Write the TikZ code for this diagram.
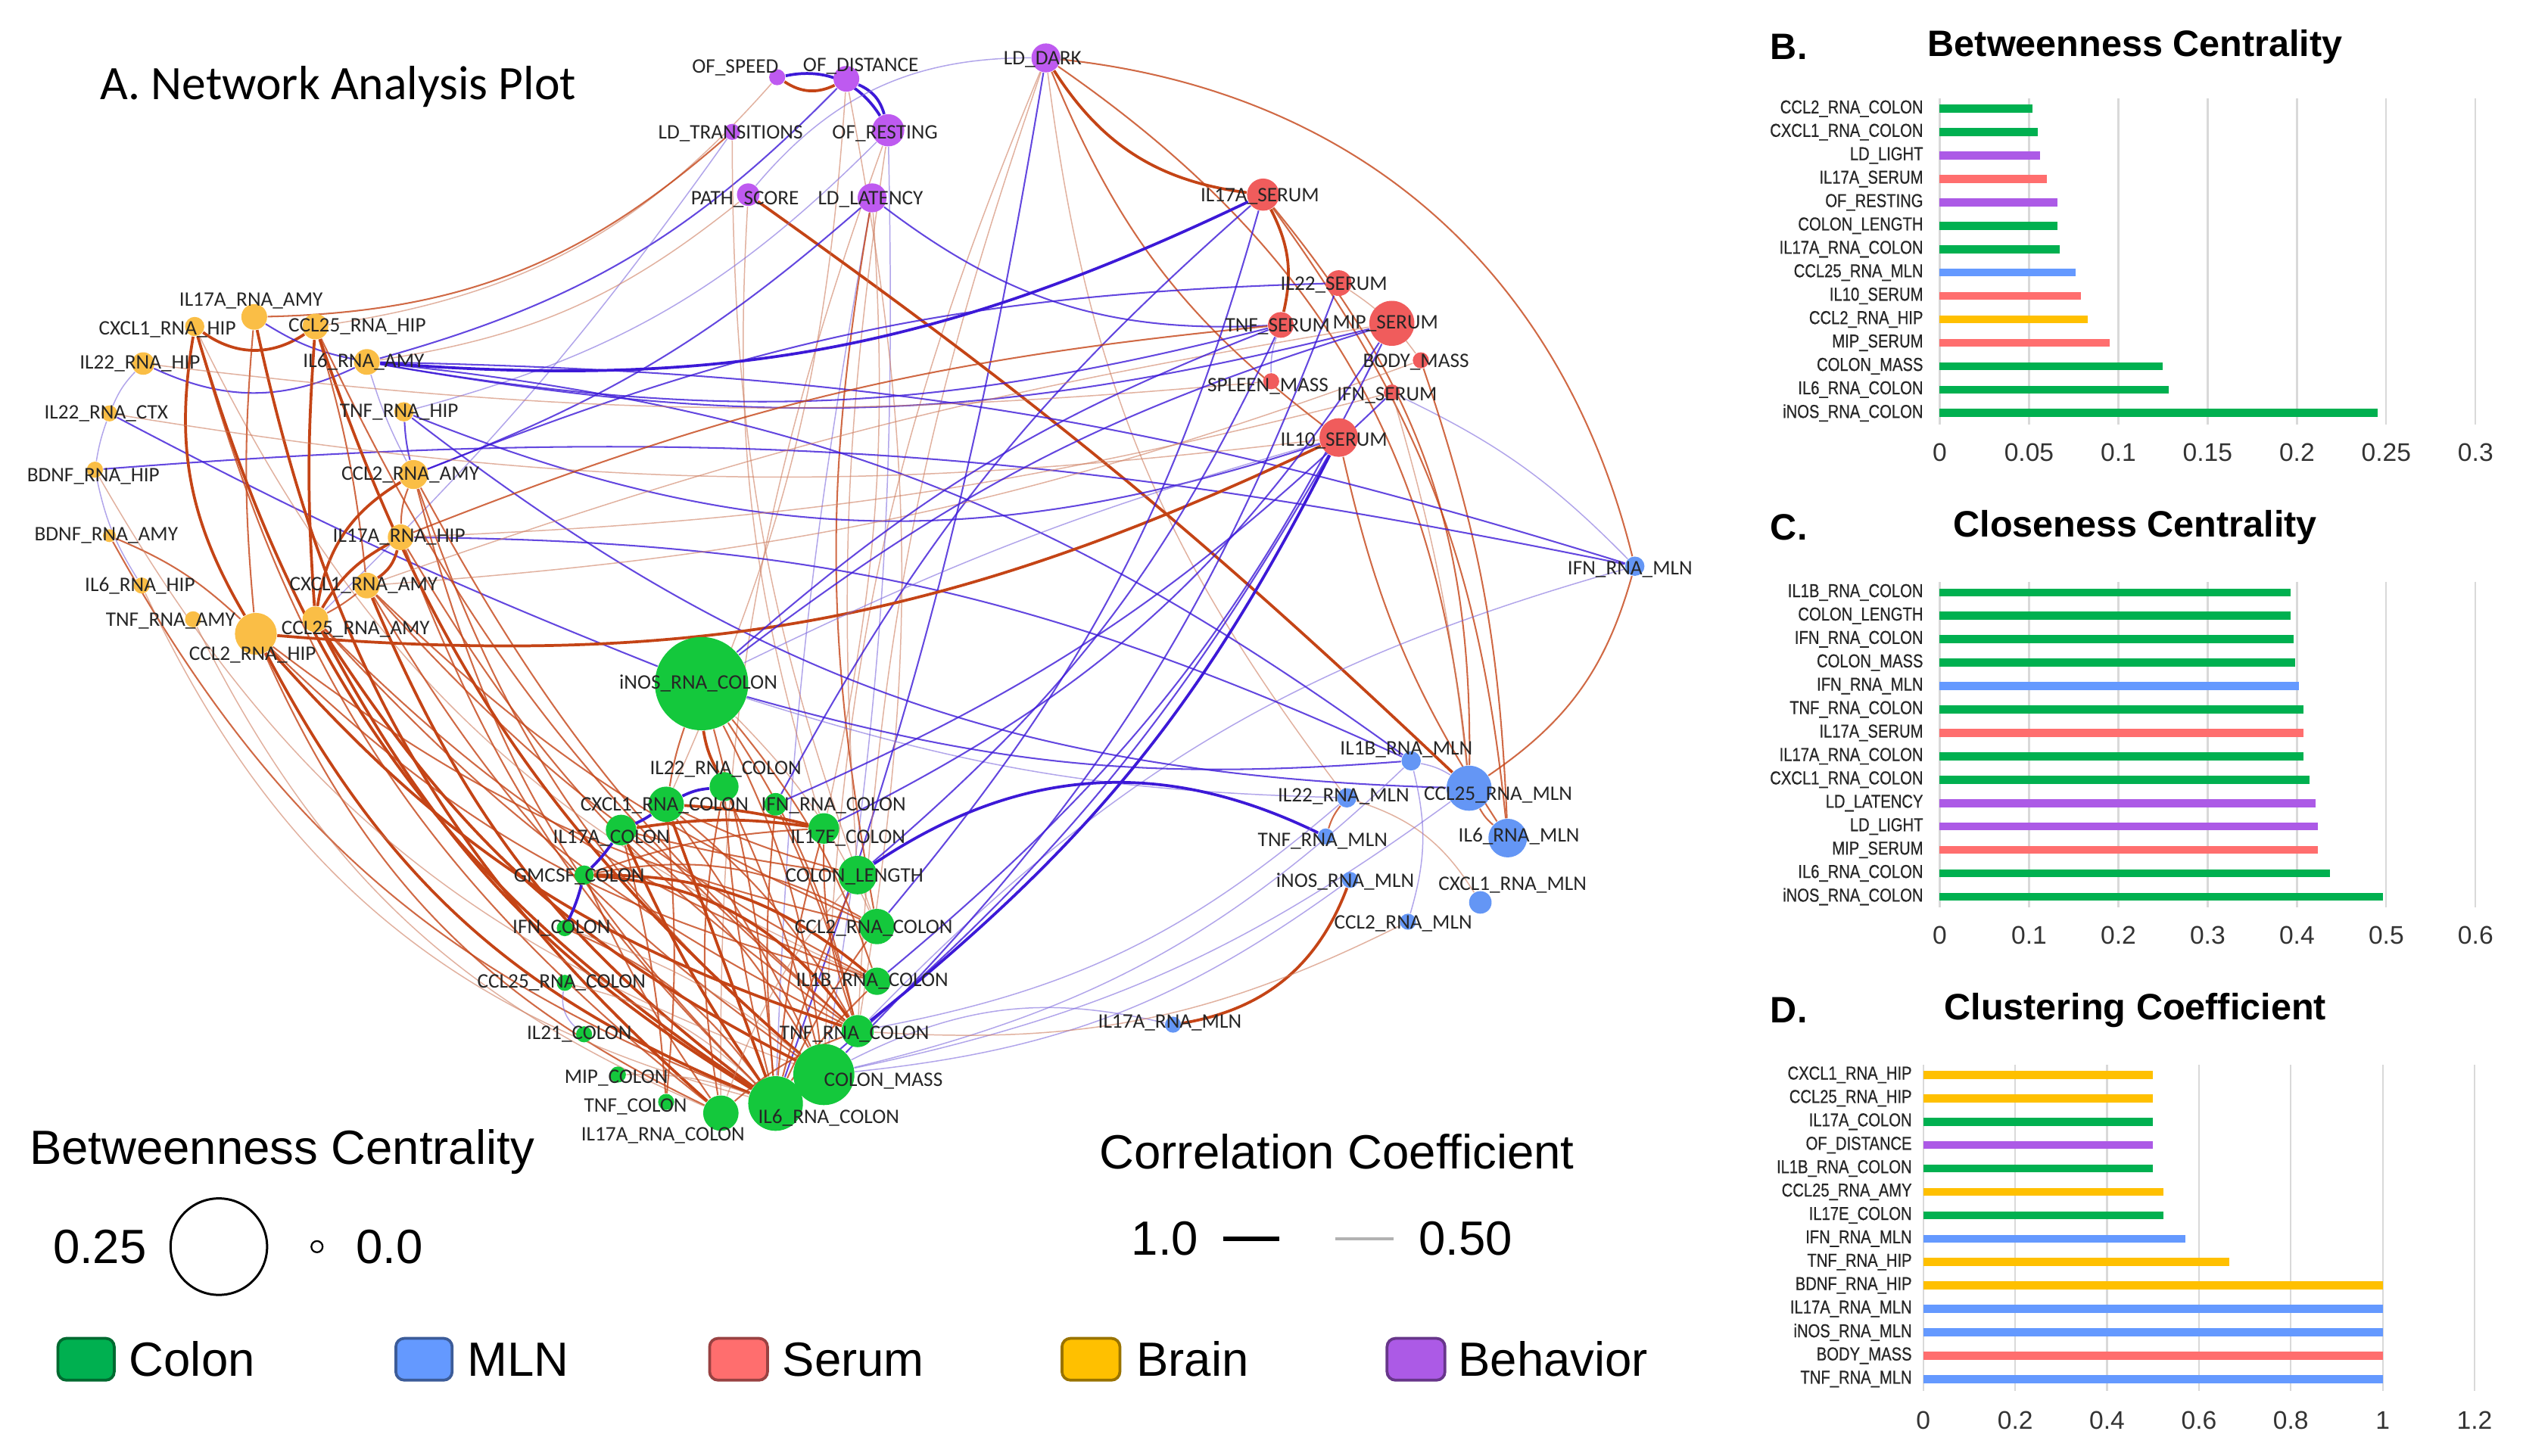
\documentclass[tikz,border=0pt]{standalone}
\usepackage{fontspec}
\setmainfont{Liberation Sans}
\newfontfamily\calfont{Carlito}
\newfontfamily\narrowfont[FakeStretch=0.82,FakeBold=0.6]{Liberation Sans}
\usepackage{tikz}
\usetikzlibrary{backgrounds}

% node colours of the network
\definecolor{ncolon}{RGB}{20,200,60}
\definecolor{nmln}{RGB}{100,150,245}
\definecolor{nserum}{RGB}{240,92,92}
\definecolor{nbrain}{RGB}{250,190,70}
\definecolor{nbehav}{RGB}{190,90,240}
% edge colours
\definecolor{posdark}{RGB}{196,68,22}
\definecolor{poslight}{RGB}{205,125,95}
\definecolor{negdark}{RGB}{60,25,215}
\definecolor{neglight}{RGB}{125,105,220}
% bar / legend colours
\definecolor{barg}{RGB}{0,176,80}
\definecolor{barb}{RGB}{100,153,255}
\definecolor{barr}{RGB}{255,110,110}
\definecolor{bary}{RGB}{255,192,0}
\definecolor{barp}{RGB}{172,90,230}
\definecolor{gridc}{RGB}{217,217,217}

\begin{document}
\begin{tikzpicture}[x=0.02cm, y=-0.02cm,
  dot/.style={circle, inner sep=0pt, minimum size=#1*0.04cm},
  colon/.style={dot=#1, fill=ncolon},
  mln/.style={dot=#1, fill=nmln},
  serum/.style={dot=#1, fill=nserum},
  brain/.style={dot=#1, fill=nbrain},
  behav/.style={dot=#1, fill=nbehav},
  nlab/.style={font=\calfont\fontsize{7.3}{8}\selectfont, inner sep=0pt, text=black!85},
  pa/.style={draw=posdark, line width=1pt},
  pb/.style={draw=posdark, line width=0.55pt, draw opacity=0.8},
  pc/.style={draw=poslight, line width=0.4pt, draw opacity=0.6},
  na/.style={draw=negdark, line width=1pt},
  nb/.style={draw=negdark, line width=0.55pt, draw opacity=0.8},
  nc/.style={draw=neglight, line width=0.4pt, draw opacity=0.6},
  legtext/.style={font=\fontsize{17}{20}\selectfont, inner sep=0pt},
  swatch/.style={draw=#1!60!black, fill=#1, line width=1pt, rounded corners=3pt},
  charttitle/.style={font=\bfseries\fontsize{13}{15}\selectfont, inner sep=0pt},
  catlab/.style={font=\narrowfont\fontsize{6.6}{8}\selectfont, inner sep=0pt, anchor=east, text=black!85},
  ticklab/.style={font=\fontsize{9}{10}\selectfont, inner sep=0pt, text=black!80},
  grid/.style={draw=gridc, line width=0.6pt}
]
\useasboundingbox (0,0) rectangle (1568,905);

\node[font=\calfont\fontsize{17}{20}\selectfont, anchor=west, inner sep=0pt] (atitle) at (62,54) {A. Network Analysis Plot};

% behaviour
\node[behav=5]  (ofspd)   at (483,48)  {};
\node[behav=8]  (ofdist)  at (526,49)  {};
\node[behav=9]  (lddark)  at (650,36)  {};
\node[behav=5]  (ldtrans) at (455,82)  {};
\node[behav=10] (ofrest)  at (552,81)  {};
\node[behav=7]  (pathsc)  at (465,121) {};
\node[behav=9]  (ldlat)   at (542,123) {};
% serum
\node[serum=10] (il17as)  at (785,121) {};
\node[serum=8]  (il22s)   at (832,176) {};
\node[serum=8]  (tnfs)    at (796,202) {};
\node[serum=14] (mips)    at (865,201) {};
\node[serum=5]  (bodym)   at (883,224) {};
\node[serum=5]  (spleenm) at (790,237) {};
\node[serum=5]  (ifns)    at (865,244) {};
\node[serum=12] (il10s)   at (832,272) {};
% brain
\node[brain=8]  (il17aamy) at (158,197) {};
\node[brain=6]  (cxcl1hip) at (121,203) {};
\node[brain=8]  (ccl25hip) at (196,203) {};
\node[brain=7]  (il22hip)  at (89,226)  {};
\node[brain=8]  (il6amy)   at (228,225) {};
\node[brain=5]  (il22ctx)  at (68,257)  {};
\node[brain=6]  (tnfhip)   at (251,256) {};
\node[brain=5]  (bdnfhip)  at (59,292)  {};
\node[brain=9]  (ccl2amy)  at (257,295) {};
\node[brain=4]  (bdnfamy)  at (68,333)  {};
\node[brain=8]  (il17ahip) at (249,334) {};
\node[brain=5]  (il6hip)   at (88,364)  {};
\node[brain=8]  (cxcl1amy) at (228,364) {};
\node[brain=5]  (tnfamy)   at (120,385) {};
\node[brain=13] (ccl2hip)  at (159,394) {};
\node[brain=8]  (ccl25amy) at (196,385) {};
% colon
\node[colon=29] (inosc)   at (436,425) {};
\node[colon=9]  (il22c)   at (450,489) {};
\node[colon=11] (cxcl1c)  at (414,500) {};
\node[colon=7]  (ifnc)    at (482,500) {};
\node[colon=9.5](il17ac)  at (386,516) {};
\node[colon=9.5](il17ec)  at (512,515) {};
\node[colon=6]  (gmcsfc)  at (363,544) {};
\node[colon=12] (clen)    at (533,544) {};
\node[colon=5]  (ifncol)  at (351,577) {};
\node[colon=11] (ccl2c)   at (545,576) {};
\node[colon=5]  (ccl25c)  at (351,611) {};
\node[colon=8.5](il1bc)   at (545,610) {};
\node[colon=5]  (il21c)   at (363,643) {};
\node[colon=10] (tnfc)    at (533,641) {};
\node[colon=19] (cmass)   at (512,668) {};
\node[colon=5]  (mipc)    at (384,668) {};
\node[colon=5]  (tnfcol)  at (414,685) {};
\node[colon=11] (il17arc) at (448,692) {};
\node[colon=17] (il6c)    at (482,686) {};
% mln
\node[mln=6]  (il1bm)  at (877,473)  {};
\node[mln=14] (ccl25m) at (913,490)  {};
\node[mln=6]  (il22m)  at (837,496)  {};
\node[mln=12] (il6m)   at (937,521)  {};
\node[mln=5]  (tnfm)   at (824,520)  {};
\node[mln=5]  (inosm)  at (839,547)  {};
\node[mln=7]  (cxcl1m) at (920,561)  {};
\node[mln=5]  (ccl2m)  at (875,573)  {};
\node[mln=5]  (il17am) at (729,637)  {};
\node[mln=6]  (ifnm)   at (1016,352) {};

% node labels
\node[nlab] (ofspd-t)   at (457,42)  {OF\_SPEED};
\node[nlab] (ofdist-t)  at (535,41)  {OF\_DISTANCE};
\node[nlab] (lddark-t)  at (648,37)  {LD\_DARK};
\node[nlab] (ldtrans-t) at (454,83)  {LD\_TRANSITIONS};
\node[nlab] (ofrest-t)  at (550,83)  {OF\_RESTING};
\node[nlab] (pathsc-t)  at (463,124) {PATH\_SCORE};
\node[nlab] (ldlat-t)   at (541,124) {LD\_LATENCY};
\node[nlab] (il17as-t)  at (783,122) {IL17A\_SERUM};
\node[nlab] (il22s-t)   at (829,177) {IL22\_SERUM};
\node[nlab] (tnfs-t)    at (794,203) {TNF\_SERUM};
\node[nlab] (mips-t)    at (861,201) {MIP\_SERUM};
\node[nlab] (bodym-t)   at (880,225) {BODY\_MASS};
\node[nlab] (spleenm-t) at (788,240) {SPLEEN\_MASS};
\node[nlab] (ifns-t)    at (862,246) {IFN\_SERUM};
\node[nlab] (il10s-t)   at (829,274) {IL10\_SERUM};
\node[nlab] (il17aamy-t) at (156,187) {IL17A\_RNA\_AMY};
\node[nlab] (cxcl1hip-t) at (104,205) {CXCL1\_RNA\_HIP};
\node[nlab] (ccl25hip-t) at (222,203) {CCL25\_RNA\_HIP};
\node[nlab] (il22hip-t)  at (87,226)  {IL22\_RNA\_HIP};
\node[nlab] (il6amy-t)   at (226,225) {IL6\_RNA\_AMY};
\node[nlab] (il22ctx-t)  at (66,257)  {IL22\_RNA\_CTX};
\node[nlab] (tnfhip-t)   at (248,256) {TNF\_RNA\_HIP};
\node[nlab] (bdnfhip-t)  at (58,296)  {BDNF\_RNA\_HIP};
\node[nlab] (ccl2amy-t)  at (255,295) {CCL2\_RNA\_AMY};
\node[nlab] (bdnfamy-t)  at (66,333)  {BDNF\_RNA\_AMY};
\node[nlab] (il17ahip-t) at (248,334) {IL17A\_RNA\_HIP};
\node[nlab] (il6hip-t)   at (87,364)  {IL6\_RNA\_HIP};
\node[nlab] (cxcl1amy-t) at (226,364) {CXCL1\_RNA\_AMY};
\node[nlab] (tnfamy-t)   at (106,386) {TNF\_RNA\_AMY};
\node[nlab] (ccl2hip-t)  at (157,407) {CCL2\_RNA\_HIP};
\node[nlab] (ccl25amy-t) at (221,391) {CCL25\_RNA\_AMY};
\node[nlab] (inosc-t)   at (434,425) {iNOS\_RNA\_COLON};
\node[nlab] (il22c-t)   at (451,478) {IL22\_RNA\_COLON};
\node[nlab] (cxcl1c-t)  at (413,501) {CXCL1\_RNA\_COLON};
\node[nlab] (ifnc-t)    at (518,501) {IFN\_RNA\_COLON};
\node[nlab] (il17ac-t)  at (380,521) {IL17A\_COLON};
\node[nlab] (il17ec-t)  at (527,521) {IL17E\_COLON};
\node[nlab] (gmcsfc-t)  at (360,545) {GMCSF\_COLON};
\node[nlab] (clen-t)    at (531,545) {COLON\_LENGTH};
\node[nlab] (ifncol-t)  at (349,577) {IFN\_COLON};
\node[nlab] (ccl2c-t)   at (543,577) {CCL2\_RNA\_COLON};
\node[nlab] (ccl25c-t)  at (349,611) {CCL25\_RNA\_COLON};
\node[nlab] (il1bc-t)   at (542,610) {IL1B\_RNA\_COLON};
\node[nlab] (il21c-t)   at (360,643) {IL21\_COLON};
\node[nlab] (tnfc-t)    at (531,643) {TNF\_RNA\_COLON};
\node[nlab] (cmass-t)   at (549,672) {COLON\_MASS};
\node[nlab] (mipc-t)    at (383,670) {MIP\_COLON};
\node[nlab] (tnfcol-t)  at (395,688) {TNF\_COLON};
\node[nlab] (il17arc-t) at (412,706) {IL17A\_RNA\_COLON};
\node[nlab] (il6c-t)    at (515,695) {IL6\_RNA\_COLON};
\node[nlab] (il1bm-t)   at (874,466) {IL1B\_RNA\_MLN};
\node[nlab] (ccl25m-t)  at (931,494) {CCL25\_RNA\_MLN};
\node[nlab] (il22m-t)   at (835,495) {IL22\_RNA\_MLN};
\node[nlab] (il6m-t)    at (944,520) {IL6\_RNA\_MLN};
\node[nlab] (tnfm-t)    at (822,523) {TNF\_RNA\_MLN};
\node[nlab] (inosm-t)   at (836,548) {iNOS\_RNA\_MLN};
\node[nlab] (cxcl1m-t)  at (940,550) {CXCL1\_RNA\_MLN};
\node[nlab] (ccl2m-t)   at (872,574) {CCL2\_RNA\_MLN};
\node[nlab] (il17am-t)  at (727,636) {IL17A\_RNA\_MLN};
\node[nlab] (ifnm-t)    at (1013,354) {IFN\_RNA\_MLN};

\begin{pgfonlayer}{background}
% behaviour
\draw[pa] (ofspd) to[bend right=30] (ofdist);
\draw[na] (ofspd) to[bend left=35] (ofrest);
\draw[na] (ofdist) to[bend left=25] (ofrest);
\draw[pc] (ofspd) to[bend left=20] (ccl25hip);
\draw[pb] (ldtrans) to[bend left=20] (il17aamy);
\draw[nb] (ofdist) to[bend left=15] (il6amy);
\draw[nc] (ldtrans) to[bend left=5] (ccl25amy);
\draw[nc] (lddark) to[bend right=25] (pathsc);
\draw[pa] (lddark) to[bend right=25] (il17as);
\draw[pb] (lddark) to[bend right=15] (il10s);
\draw[pb] (lddark) to[bend left=35] (ifnm);
\draw[pb] (lddark) to[bend left=25] (ccl25m);
\draw[nb] (lddark) to[bend left=5] (il6c);
\draw[pc] (lddark) to[bend right=10] (cmass);
\draw[pc] (lddark) to[bend right=15] (il22m);
\draw[pc] (lddark) to[bend right=8] (tnfc);
\draw[nc] (ldlat) to[bend right=4] (il6c);
\draw[nc] (ofrest) to[bend left=5] (cmass);
\draw[pb] (ldlat) to[bend right=10] (ccl2c);
\draw[pc] (ofrest) to[bend right=10] (il17arc);
\draw[pc] (ofdist) to[bend left=10] (tnfc);
\draw[pa] (pathsc) to[bend left=4] (ccl25m);
\draw[nb] (ldlat) to[bend right=20] (tnfs);
\draw[pc] (pathsc) to[bend right=10] (il17ec);
\draw[pc] (ofdist) to[bend left=10] (cxcl1c);
\draw[pc] (ldlat) to[bend left=8] (il17ec);
\draw[pc] (ofrest) to[bend right=6] (clen);
\draw[pc] (ldtrans) to[bend right=10] (ccl2c);
\draw[pc] (pathsc) to[bend left=15] (il6amy);
\draw[nb] (ldlat) to[bend left=10] (ccl2amy);
\draw[nc] (ofrest) to[bend left=15] (tnfhip);
% serum
\draw[pa] (il17as) to[bend left=20] (tnfs);
\draw[na] (il17as) to[bend left=15] (il6amy);
\draw[nb] (il17as) to[bend right=10] (ifnc);
\draw[pb] (il17as) to[bend left=20] (ccl25m);
\draw[pb] (il17as) to[bend left=15] (il6m);
\draw[pc] (il22s) to[bend left=10] (bodym);
\draw[nc] (tnfs) to[bend right=10] (spleenm);
\draw[nc] (ifns) to[bend left=10] (ifnm);
\draw[pb] (il10s) to[bend right=10] (il6m);
\draw[pb] (il6m) to[bend right=8] (bodym);
\draw[pc] (ifns) to[bend left=5] (ccl25m);
\draw[pb] (ifnm) to[bend left=20] (ccl25m);
\draw[nc] (ifnm) to[bend right=15] (tnfc);
% brain
\draw[pa] (cxcl1hip) to[bend right=35] (ccl25hip);
\draw[nb] (il17aamy) to[bend right=10] (il6amy);
\draw[nb] (il22hip) to[bend right=25] (il6amy);
\draw[nc] (il22hip) to[bend right=10] (il22ctx);
\draw[nc] (il22ctx) to[bend right=5] (bdnfhip);
\draw[nc] (bdnfhip) to[bend right=10] (il6hip);
\draw[nb] (il22ctx) to[bend right=3] (inosc);
\draw[nb] (tnfhip) to[bend right=5] (ccl2amy);
\draw[nb] (tnfhip) to[bend right=20] (il10s);
\draw[nb] (tnfhip) to[bend right=18] (ccl25m);
\draw[nc] (il6amy) to[bend right=5] (ccl2amy);
\draw[nb] (il6amy) to[bend right=12] (mips);
\draw[nb] (il6amy) to[bend right=12] (tnfs);
\draw[nb] (il6amy) to[bend left=15] (il1bm);
\draw[nb] (il6amy) to[bend left=8] (ifnm);
\draw[nb] (ccl2amy) to[bend left=10] (il22s);
\draw[nb] (il17ahip) to[bend left=12] (il1bm);
\draw[nb] (bdnfhip) to[bend left=8] (ifnm);
\draw[pb] (ccl2amy) to[bend right=10] (il17ahip);
\draw[pa] (ccl2amy) to[bend right=25] (ccl25amy);
\draw[pa] (il17ahip) to[bend left=20] (cxcl1amy);
\draw[pb] (ccl2amy) to[bend right=15] (il6c);
\draw[pb] (ccl2amy) to[bend right=15] (cmass);
\draw[pb] (ccl2amy) to[bend right=10] (tnfc);
\draw[pa] (cxcl1hip) to[bend right=20] (il6c);
\draw[pb] (cxcl1hip) to[bend right=18] (il17arc);
\draw[pc] (cxcl1hip) to[bend right=20] (il1bc);
\draw[pa] (cxcl1hip) to[bend right=20] (ccl2hip);
\draw[pa] (il17aamy) to[bend right=18] (il17arc);
\draw[pb] (il17aamy) to[bend right=5] (ccl2hip);
\draw[pa] (ccl25hip) to[bend right=15] (cmass);
\draw[pb] (ccl25hip) to[bend right=12] (tnfc);
\draw[pa] (ccl25hip) to[bend right=4] (ccl25amy);
\draw[pb] (ccl25hip) to[bend left=5] (cxcl1amy);
\draw[pa] (ccl2hip) to[bend right=20] (il6c);
\draw[pb] (ccl2hip) to[bend right=20] (il17arc);
\draw[pb] (ccl2hip) to[bend right=15] (il1bc);
\draw[pa] (ccl2hip) to[bend right=15] (tnfc);
\draw[pb] (ccl2hip) to[bend right=12] (ccl2c);
\draw[pa] (ccl2hip) to[bend right=15] (il10s);
\draw[pa] (ccl25amy) to[bend right=15] (il6c);
\draw[pa] (ccl25amy) to[bend right=15] (cmass);
\draw[pb] (ccl25amy) to[bend right=10] (tnfc);
\draw[pb] (ccl25amy) to[bend right=12] (il1bc);
\draw[pa] (ccl25amy) to[bend left=15] (il17ahip);
\draw[pb] (ccl25amy) to[bend right=5] (cxcl1amy);
\draw[pa] (cxcl1amy) to[bend right=15] (il6c);
\draw[pb] (cxcl1amy) to[bend right=12] (cmass);
\draw[pb] (cxcl1amy) to[bend right=10] (ccl2c);
\draw[pb] (cxcl1amy) to[bend right=10] (il1bc);
\draw[pb] (il17ahip) to[bend right=12] (il6c);
\draw[pb] (il17ahip) to[bend right=12] (tnfc);
\draw[pb] (bdnfamy) to[bend left=10] (ccl2hip);
\draw[pb] (bdnfamy) to[bend right=20] (il6c);
\draw[pc] (tnfamy) to[bend right=20] (il17arc);
\draw[pc] (il6hip) to[bend right=25] (il6c);
\draw[pc] (bdnfhip) to[bend right=20] (cmass);
\draw[pc] (il22ctx) to[bend right=8] (il10s);
\draw[pc] (il22hip) to[bend right=6] (spleenm);
\draw[pc] (cxcl1amy) to[bend right=8] (bodym);
\draw[pb] (il17ahip) to[bend left=8] (tnfs);
\draw[pc] (cxcl1amy) to[bend left=5] (mips);
\draw[pc] (il17ahip) to[bend right=6] (ifns);
% colon
\draw[pa] (inosc) to[bend right=10] (il22c);
\draw[pb] (inosc) to[bend right=5] (cxcl1c);
\draw[pb] (inosc) to[bend left=5] (il6c);
\draw[pb] (inosc) to[bend left=10] (cmass);
\draw[pb] (inosc) to[bend left=10] (tnfc);
\draw[pb] (inosc) to[bend left=10] (il1bc);
\draw[pc] (inosc) to[bend left=10] (ccl2c);
\draw[nb] (inosc) to[bend left=10] (mips);
\draw[nb] (inosc) to[bend left=10] (tnfs);
\draw[nc] (inosc) to[bend left=5] (il10s);
\draw[nb] (inosc) to[bend right=10] (il1bm);
\draw[nc] (inosc) to[bend right=8] (il22m);
\draw[na] (ifncol) to[bend right=5] (gmcsfc);
\draw[na] (gmcsfc) to[bend right=5] (il17ac);
\draw[na] (il17ac) to[bend right=5] (cxcl1c);
\draw[na] (cxcl1c) to[bend left=10] (il22c);
\draw[pa] (cxcl1c) to[bend left=5] (il17ec);
\draw[pa] (il17ac) to[bend left=8] (il17ec);
\draw[pb] (gmcsfc) to[bend left=8] (il17ec);
\draw[pb] (cxcl1c) to[bend right=5] (clen);
\draw[pb] (il17ac) to[bend right=3] (clen);
\draw[pa] (gmcsfc) to[bend left=25] (tnfc);
\draw[pa] (gmcsfc) to[bend left=20] (il1bc);
\draw[pb] (gmcsfc) to[bend left=20] (ccl2c);
\draw[pa] (il17ac) to[bend right=5] (il6c);
\draw[pb] (il17ac) to[bend left=10] (cmass);
\draw[pa] (cxcl1c) to (il6c);
\draw[pb] (cxcl1c) to[bend left=5] (cmass);
\draw[pb] (cxcl1c) to[bend left=10] (tnfc);
\draw[pb] (il22c) to[bend right=5] (il6c);
\draw[pb] (il22c) to[bend left=5] (cmass);
\draw[pb] (il22c) to[bend right=10] (il17arc);
\draw[pb] (ifnc) to[bend left=5] (tnfc);
\draw[pb] (ifnc) to[bend right=5] (il6c);
\draw[pb] (il17ec) to[bend right=5] (il6c);
\draw[pb] (il17ec) to[bend right=10] (tnfc);
\draw[pb] (clen) to[bend right=5] (il6c);
\draw[pc] (clen) to[bend right=10] (il17arc);
\draw[pb] (ccl2c) to[bend right=5] (il6c);
\draw[pb] (il1bc) to[bend right=5] (il6c);
\draw[pb] (tnfc) to[bend right=10] (il17arc);
\draw[pb] (ifncol) to[bend left=15] (il6c);
\draw[pc] (ccl25c) to[bend left=15] (il6c);
\draw[pc] (mipc) to[bend left=10] (il6c);
\draw[pb] (tnfcol) to[bend right=5] (cxcl1c);
\draw[pb] (il17arc) to[bend left=5] (gmcsfc);
\draw[nc] (il21c) to[bend left=30] (ccl25c);
\draw[pb] (tnfcol) to[bend right=5] (il17ac);
\draw[pc] (ifncol) to[bend left=10] (cmass);
% colon to serum and mln
\draw[nb] (il17ec) to[bend right=15] (mips);
\draw[na] (clen) to[bend left=30] (tnfm);
\draw[nb] (clen) to[bend right=12] (tnfs);
\draw[na] (tnfc) to[bend right=12] (il10s);
\draw[nb] (il1bc) to[bend right=12] (mips);
\draw[nb] (ccl2c) to[bend right=12] (il17as);
\draw[nc] (cmass) to[bend right=15] (il1bm);
\draw[nc] (cmass) to[bend right=15] (inosm);
\draw[nc] (cmass) to[bend right=12] (ccl25m);
\draw[nc] (tnfc) to[bend right=15] (il22m);
\draw[nb] (il6c) to[bend right=10] (il10s);
\draw[nb] (cmass) to[bend right=12] (il22s);
\draw[nb] (ifnc) to[bend right=10] (ifns);
\draw[nc] (il17am) to[bend right=20] (cmass);
\draw[pa] (il17am) to[bend right=30] (inosm);
\draw[pc] (tnfc) to[bend right=15] (ccl2m);
% mln
\draw[pb] (ccl25m) to[bend right=10] (il6m);
\draw[nc] (ccl25m) to[bend right=10] (il1bm);
\draw[pb] (il22m) to[bend right=10] (tnfm);
\draw[pc] (il22m) to[bend left=20] (cxcl1m);
\draw[nc] (ccl2m) to[bend right=15] (il1bm);
\end{pgfonlayer}

% legends under the network
\node[legtext, anchor=west] (bclegend) at (18,716) {Betweenness Centrality};
\node[legtext] (big-v) at (62,775) {0.25};
\node[circle, draw, line width=0.8pt, minimum size=1.2cm, inner sep=0pt] (bigc) at (136,775) {};
\node[circle, draw, line width=0.6pt, minimum size=0.14cm, inner sep=0pt] (smallc) at (197,775) {};
\node[legtext] (small-v) at (242,775) {0.0};
\node[legtext, anchor=west] (cclegend) at (683,716) {Correlation Coefficient};
\node[legtext] (hi-v) at (724,770) {1.0};
\coordinate (hi-a) at (760,770);
\coordinate (hi-b) at (795,770);
\draw[line width=1.7pt] (hi-a) -- (hi-b);
\coordinate (lo-a) at (830,770);
\coordinate (lo-b) at (866,770);
\draw[line width=1.1pt, black!30] (lo-a) -- (lo-b);
\node[legtext] (lo-v) at (911,770) {0.50};

\draw[swatch=barg] (36,832) rectangle (71,858);
\node[legtext, anchor=west] (lg-colon) at (80,845) {Colon};
\draw[swatch=barb] (246,832) rectangle (281,858);
\node[legtext, anchor=west] (lg-mln) at (290,845) {MLN};
\draw[swatch=barr] (441,832) rectangle (477,858);
\node[legtext, anchor=west] (lg-serum) at (486,845) {Serum};
\draw[swatch=bary] (660,832) rectangle (696,858);
\node[legtext, anchor=west] (lg-brain) at (706,845) {Brain};
\draw[swatch=barp] (862,832) rectangle (898,858);
\node[legtext, anchor=west] (lg-behav) at (906,845) {Behavior};

% B. betweenness
\node[charttitle, anchor=west] (bletter) at (1100,29) {B.};
\node[charttitle] (btitle) at (1327,29) {Betweenness Centrality};
\foreach \k/\t in {0/0,1/0.05,2/0.1,3/0.15,4/0.2,5/0.25,6/0.3} {
  \draw[grid] ({1205.5+\k*55.5},61) -- ({1205.5+\k*55.5},264);
  \node[ticklab] (bt-\k) at ({1205.5+\k*55.5},281.3) {\t};
}
\foreach \lab/\v/\c [count=\i from 0] in {
  CCL2\_RNA\_COLON/0.052/barg, CXCL1\_RNA\_COLON/0.055/barg, LD\_LIGHT/0.056/barp,
  IL17A\_SERUM/0.060/barr, OF\_RESTING/0.066/barp, COLON\_LENGTH/0.066/barg,
  IL17A\_RNA\_COLON/0.067/barg, CCL25\_RNA\_MLN/0.076/barb, IL10\_SERUM/0.079/barr,
  CCL2\_RNA\_HIP/0.083/bary, MIP\_SERUM/0.095/barr, COLON\_MASS/0.125/barg,
  IL6\_RNA\_COLON/0.128/barg, iNOS\_RNA\_COLON/0.245/barg} {
  \fill[\c] (1205.5,{67.6+\i*14.55-2.5}) rectangle ({1205.5+\v*1110},{67.6+\i*14.55+2.5});
  \node[catlab] (bl-\i) at (1195.5,{67.6+\i*14.55}) {\lab};
}

% C. closeness
\node[charttitle, anchor=west] (cletter) at (1100,328) {C.};
\node[charttitle] (ctitle) at (1327,328) {Closeness Centrality};
\foreach \k/\t in {0/0,1/0.1,2/0.2,3/0.3,4/0.4,5/0.5,6/0.6} {
  \draw[grid] ({1205.5+\k*55.5},361.6) -- ({1205.5+\k*55.5},564);
  \node[ticklab] (ct-\k) at ({1205.5+\k*55.5},581.4) {\t};
}
\foreach \lab/\v/\c [count=\i from 0] in {
  IL1B\_RNA\_COLON/0.393/barg, COLON\_LENGTH/0.393/barg, IFN\_RNA\_COLON/0.396/barg,
  COLON\_MASS/0.398/barg, IFN\_RNA\_MLN/0.402/barb, TNF\_RNA\_COLON/0.407/barg,
  IL17A\_SERUM/0.407/barr, IL17A\_RNA\_COLON/0.407/barg, CXCL1\_RNA\_COLON/0.414/barg,
  LD\_LATENCY/0.421/barp, LD\_LIGHT/0.423/barp, MIP\_SERUM/0.423/barr,
  IL6\_RNA\_COLON/0.437/barg, iNOS\_RNA\_COLON/0.496/barg} {
  \fill[\c] (1205.5,{368.3+\i*14.55-2.5}) rectangle ({1205.5+\v*555},{368.3+\i*14.55+2.5});
  \node[catlab] (cl-\i) at (1195.5,{368.3+\i*14.55}) {\lab};
}

% D. clustering
\node[charttitle, anchor=west] (dletter) at (1100,628) {D.};
\node[charttitle] (dtitle) at (1327,628) {Clustering Coefficient};
\foreach \k/\t in {0/0,1/0.2,2/0.4,3/0.6,4/0.8,5/1,6/1.2} {
  \draw[grid] ({1195.3+\k*57.1},662) -- ({1195.3+\k*57.1},864.7);
  \node[ticklab] (dt-\k) at ({1195.3+\k*57.1},883) {\t};
}
\foreach \lab/\v/\c [count=\i from 0] in {
  CXCL1\_RNA\_HIP/0.5/bary, CCL25\_RNA\_HIP/0.5/bary, IL17A\_COLON/0.5/barg,
  OF\_DISTANCE/0.5/barp, IL1B\_RNA\_COLON/0.5/barg, CCL25\_RNA\_AMY/0.522/bary,
  IL17E\_COLON/0.522/barg, IFN\_RNA\_MLN/0.57/barb, TNF\_RNA\_HIP/0.666/bary,
  BDNF\_RNA\_HIP/1/bary, IL17A\_RNA\_MLN/1/barb, iNOS\_RNA\_MLN/1/barb,
  BODY\_MASS/1/barr, TNF\_RNA\_MLN/1/barb} {
  \fill[\c] (1195.3,{668.2+\i*14.55-2.5}) rectangle ({1195.3+\v*285.5},{668.2+\i*14.55+2.5});
  \node[catlab] (dl-\i) at (1188.5,{668.2+\i*14.55}) {\lab};
}
\end{tikzpicture}
\end{document}
